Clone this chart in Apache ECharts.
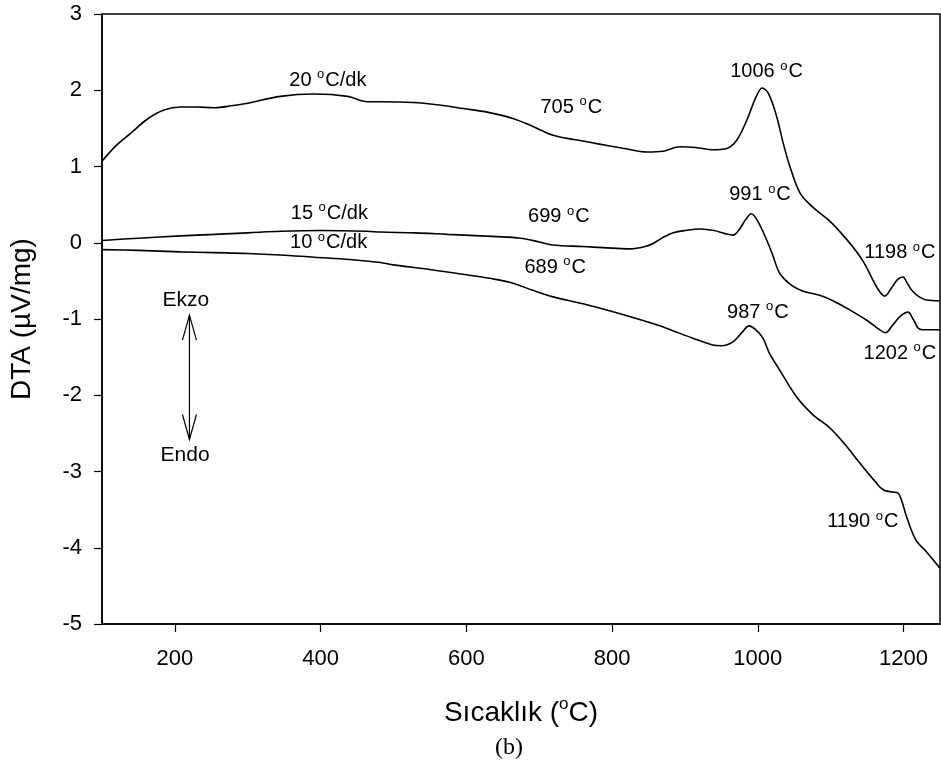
<!DOCTYPE html>
<html>
<head>
<meta charset="utf-8">
<script src="https://cdn.jsdelivr.net/npm/echarts@6/dist/echarts.min.js"></script>
<style>
html,body{margin:0;padding:0;background:#fff;}
#c{width:941px;height:764px;}
</style>
</head>
<body>
<div id="c"></div>
<script>
// ---- data ----
var xTicks = [200, 400, 600, 800, 1000, 1200];
var yTicks = [-5, -4, -3, -2, -1, 0, 1, 2, 3];

var rate20 = [[100,1.07],[120,1.28],[140,1.44],[162,1.62],[185,1.74],[208,1.78],[230,1.78],[254,1.77],[280,1.80],[300,1.83],[345,1.92],[391,1.95],[437,1.92],[464,1.85],[482,1.85],[527,1.84],[560,1.81],[596,1.76],[630,1.71],[664,1.63],[690,1.53],[719,1.41],[750,1.35],[779,1.30],[815,1.24],[848,1.19],[870,1.20],[893,1.26],[915,1.25],[938,1.22],[955,1.23],[970,1.33],[985,1.61],[997,1.90],[1006,2.03],[1015,1.95],[1026,1.65],[1035,1.30],[1044,1.00],[1058,0.65],[1075,0.47],[1099,0.28],[1115,0.12],[1130,-0.05],[1145,-0.25],[1158,-0.49],[1167,-0.64],[1174,-0.70],[1183,-0.60],[1192,-0.48],[1199,-0.45],[1205,-0.53],[1211,-0.62],[1220,-0.70],[1231,-0.75],[1250,-0.76]];

var rate15 = [[100,0.03],[150,0.06],[208,0.09],[254,0.11],[300,0.13],[345,0.15],[400,0.16],[464,0.15],[482,0.14],[530,0.13],[574,0.11],[620,0.09],[674,0.06],[700,0.01],[719,-0.03],[760,-0.05],[800,-0.07],[825,-0.08],[845,-0.05],[856,-0.01],[870,0.07],[884,0.13],[900,0.16],[921,0.18],[940,0.16],[955,0.12],[966,0.10],[975,0.18],[983,0.30],[991,0.38],[1000,0.28],[1012,0.04],[1020,-0.15],[1030,-0.40],[1045,-0.55],[1058,-0.62],[1067,-0.65],[1085,-0.69],[1105,-0.77],[1126,-0.88],[1150,-1.02],[1167,-1.14],[1175,-1.18],[1185,-1.08],[1196,-0.96],[1206,-0.91],[1213,-1.00],[1220,-1.12],[1226,-1.14],[1250,-1.14]];

var rate10 = [[100,-0.09],[150,-0.10],[208,-0.12],[254,-0.13],[300,-0.14],[345,-0.16],[391,-0.19],[440,-0.22],[482,-0.26],[500,-0.29],[550,-0.35],[600,-0.42],[640,-0.48],[664,-0.53],[690,-0.62],[719,-0.71],[760,-0.80],[811,-0.93],[856,-1.06],[880,-1.14],[910,-1.25],[938,-1.34],[950,-1.35],[966,-1.30],[978,-1.18],[988,-1.09],[997,-1.14],[1007,-1.25],[1016,-1.45],[1030,-1.67],[1053,-2.02],[1075,-2.25],[1099,-2.43],[1120,-2.65],[1140,-2.89],[1160,-3.12],[1172,-3.24],[1185,-3.27],[1192,-3.28],[1198,-3.40],[1204,-3.59],[1217,-3.90],[1231,-4.05],[1250,-4.27]];

// annotation texts: [text before degree sign, text after, T, value]
var notes = [
  ['20 ', 'C/dk', 410, 2.13],
  ['15 ', 'C/dk', 412, 0.39],
  ['10 ', 'C/dk', 411, 0.00],
  ['705 ', 'C', 744, 1.78],
  ['1006 ', 'C', 1012, 2.24],
  ['991 ', 'C', 1003, 0.63],
  ['699 ', 'C', 727, 0.34],
  ['689 ', 'C', 722, -0.32],
  ['987 ', 'C', 1000, -0.91],
  ['1198 ', 'C', 1195, -0.13],
  ['1202 ', 'C', 1195, -1.45],
  ['1190 ', 'C', 1144, -3.66]
];
var plainNotes = [
  ['Ekzo', 215, -0.76],
  ['Endo', 214, -2.78]
];
var arrowSpan = [220, -0.95, -2.58];

var FONT = '"Liberation Sans", Arial, sans-serif';

var chart = echarts.init(document.getElementById('c'), null, {renderer: 'canvas'});

function lineSeries(name, data) {
  return {
    name: name,
    type: 'line',
    data: data,
    showSymbol: false,
    symbol: 'none',
    smooth: 0.35,
    lineStyle: {color: '#000', width: 1.6},
    animation: false,
    silent: true
  };
}

var option = {
  animation: false,
  backgroundColor: '#fff',
  grid: {left: 101, right: 1, top: 14, bottom: 140, show: true, borderColor: '#000', borderWidth: 1.5, backgroundColor: 'transparent'},
  xAxis: {
    type: 'value',
    min: 100, max: 1250,
    name: '{t|Sıcaklık (}{s|o}{t|C)}',
    nameLocation: 'middle',
    nameGap: 72,
    nameTextStyle: {
      rich: {
        t: {fontFamily: FONT, fontSize: 28, color: '#000', lineHeight: 34},
        s: {fontFamily: FONT, fontSize: 17, color: '#000', lineHeight: 34, verticalAlign: 'top'}
      }
    },
    axisLine: {show: true, onZero: false, lineStyle: {color: '#000', width: 1.5}},
    axisTick: {show: true, inside: false, length: 8, lineStyle: {color: '#000', width: 1.2}, customValues: xTicks},
    axisLabel: {fontFamily: FONT, fontSize: 22, color: '#000', margin: 24, customValues: xTicks, formatter: function (v) { return String(v); }},
    splitLine: {show: false}
  },
  yAxis: {
    type: 'value',
    min: -5, max: 3, interval: 1,
    name: 'DTA (µV/mg)',
    nameLocation: 'middle',
    nameRotate: 90,
    nameGap: 66,
    nameTextStyle: {fontFamily: FONT, fontSize: 28, color: '#000'},
    axisLine: {show: true, onZero: false, lineStyle: {color: '#000', width: 1.5}},
    axisTick: {show: true, inside: false, length: 8, lineStyle: {color: '#000', width: 1.2}},
    axisLabel: {fontFamily: FONT, fontSize: 22, color: '#000', margin: 20, formatter: function (v) { return String(v); }},
    splitLine: {show: false}
  },
  series: [
    lineSeries('20 °C/dk', rate20),
    lineSeries('15 °C/dk', rate15),
    lineSeries('10 °C/dk', rate10)
  ]
};
chart.setOption(option);

var richStyle = {
  n: {fontFamily: FONT, fontSize: 20, fill: '#000', lineHeight: 24},
  s: {fontFamily: FONT, fontSize: 13, fill: '#000', lineHeight: 24, verticalAlign: 'top', padding: [0, 1, 0, 0]}
};

var graphics = [];
notes.forEach(function (n) {
  var p = chart.convertToPixel({gridIndex: 0}, [n[2], n[3]]);
  graphics.push({
    type: 'text', x: p[0], y: p[1], silent: true,
    style: {
      text: '{n|' + n[0] + '}{s|o}{n|' + n[1] + '}',
      rich: richStyle,
      align: 'center', verticalAlign: 'middle'
    }
  });
});
plainNotes.forEach(function (n) {
  var p = chart.convertToPixel({gridIndex: 0}, [n[1], n[2]]);
  graphics.push({
    type: 'text', x: p[0], y: p[1], silent: true,
    style: {text: n[0], font: '21px ' + FONT, fill: '#000', align: 'center', verticalAlign: 'middle'}
  });
});

var pTop = chart.convertToPixel({gridIndex: 0}, [arrowSpan[0], arrowSpan[1]]);
var pBot = chart.convertToPixel({gridIndex: 0}, [arrowSpan[0], arrowSpan[2]]);
var hx = 7, hy = 25;
var ls = {stroke: '#000', lineWidth: 1.2, fill: null};
graphics.push({type: 'line', shape: {x1: pTop[0], y1: pTop[1], x2: pBot[0], y2: pBot[1]}, style: ls, silent: true});
graphics.push({type: 'polyline', shape: {points: [[pTop[0] - hx, pTop[1] + hy], [pTop[0], pTop[1]], [pTop[0] + hx, pTop[1] + hy]]}, style: ls, silent: true});
graphics.push({type: 'polyline', shape: {points: [[pBot[0] - hx, pBot[1] - hy], [pBot[0], pBot[1]], [pBot[0] + hx, pBot[1] - hy]]}, style: ls, silent: true});
graphics.push({type: 'text', x: 509, y: 748, silent: true, style: {text: '(b)', font: '24px "Liberation Serif", "Times New Roman", serif', fill: '#000', align: 'center', verticalAlign: 'middle'}});

chart.setOption({graphic: graphics});
</script>
</body>
</html>
